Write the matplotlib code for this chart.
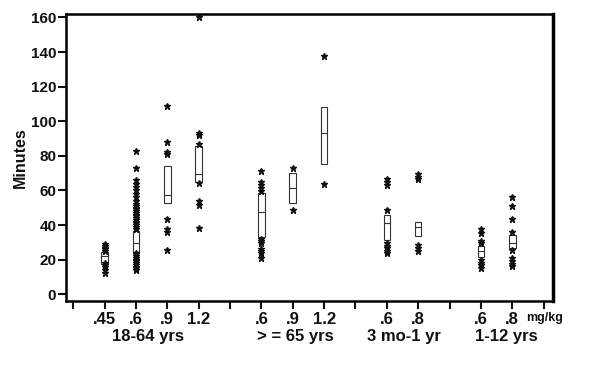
import matplotlib
matplotlib.use("Agg")
from matplotlib import pyplot as plt

plt.rcParams['font.family'] = ['Liberation Sans', 'DejaVu Sans']

# dose groups (x positions on the category axis)
positions = [1, 2, 3, 4, 6, 7, 8, 10, 11, 13, 14]
dose_labels = ['.45', '.6', '.9', '1.2', '.6', '.9', '1.2', '.6', '.8', '.6', '.8']
age_groups = ['18-64 yrs', '> = 65 yrs', '3 mo-1 yr', '1-12 yrs']
age_centers = [2.37, 7.07, 10.56, 13.8]

# box stats (minutes)
q1 = [17.3, 24.4, 52.9, 64.7, 32.9, 52.6, 75.3, 31.4, 33.7, 21.7, 26.6]
med = [22.0, 29.8, 57.2, 69.7, 47.4, 61.6, 93.0, 41.4, 39.0, 25.0, 29.5]
q3 = [24.4, 36.7, 73.9, 85.7, 58.3, 69.9, 108.4, 45.8, 41.9, 27.9, 34.3]

# individual outliers drawn as stars
outliers = [
    [12, 14, 16, 17, 18, 25, 26, 27, 28, 29],
    [14, 15, 16, 17, 18, 19, 20, 21, 22, 23, 24,
     38, 39, 40, 41, 42, 43, 44, 45, 46, 47, 48, 49, 50, 51, 52,
     54, 56, 58, 60, 62, 64, 66, 73, 83],
    [25.4, 36.2, 37.5, 43.3, 80.9, 82.0, 87.8, 108.8],
    [38.5, 51.6, 54.1, 64.5, 86.8, 92.0, 93.0, 160],
    [20.8, 23.7, 24.8, 26, 29.8, 30.8, 31.8, 59.9, 61.6, 63.1, 64.7, 71.4],
    [48.7, 72.8],
    [63.5, 138],
    [23.7, 25.2, 26.6, 27.9, 29.5, 48.7, 63.1, 65.0, 66.4],
    [25.2, 26.6, 28.5, 66.4, 68.0, 69.3],
    [15.4, 16.8, 18.3, 19.8, 29.8, 30.8, 35.6, 37.5],
    [16.3, 17.3, 19.2, 20.8, 25.6, 36.2, 43.3, 51.0, 56.4],
]

stats = []
for i in range(len(positions)):
    stats.append(dict(med=med[i], q1=q1[i], q3=q3[i],
                      whislo=q1[i], whishi=q3[i], fliers=outliers[i]))

fig = plt.figure(figsize=(5.89, 3.65), dpi=100)
ax = fig.add_axes([66 / 589, 1 - 301 / 365, (553 - 66) / 589, (301 - 14) / 365])

ax.bxp(stats, positions=positions, widths=0.21, showcaps=False,
       patch_artist=True,
       boxprops=dict(facecolor='white', edgecolor='#333333', linewidth=0.8),
       medianprops=dict(color='#333333', linewidth=0.8),
       whiskerprops=dict(linewidth=0),
       flierprops=dict(marker='*', markersize=4.8, markerfacecolor='#111111',
                       markeredgecolor='#111111', linestyle='none'))

ax.set_xlim(-0.23, 15.3)
ax.set_ylim(-3.9, 162)

ax.set_yticks(range(0, 161, 20))
ax.set_xticks(range(0, 16))
tick_text = [''] * 16
for p, lab in zip(positions, dose_labels):
    tick_text[p] = lab
ax.set_xticklabels(tick_text, fontweight='bold')
for lab in ax.get_yticklabels():
    lab.set_fontweight('bold')

ax.tick_params(axis='y', direction='out', length=6, width=1.5, labelsize=11,
               colors='#111111', pad=1)
ax.tick_params(axis='x', direction='out', length=6, width=1.5, labelsize=12,
               colors='#111111', pad=2)

for side in ['left', 'bottom', 'top']:
    ax.spines[side].set_linewidth(1.8)
ax.spines['right'].set_linewidth(2.5)

ax.set_ylabel('Minutes', fontsize=11.5, fontweight='bold', color='#111111',
              labelpad=2)

tr = ax.get_xaxis_transform()
for c, g in zip(age_centers, age_groups):
    ax.text(c, -0.122, g, transform=tr, ha='center', va='center',
            fontsize=12, fontweight='bold', color='#111111')
ax.text(15.03, -0.06, 'mg/kg', transform=tr, ha='center', va='center',
        fontsize=9, fontweight='bold', color='#111111')

fig.savefig('out.png', dpi=100)
